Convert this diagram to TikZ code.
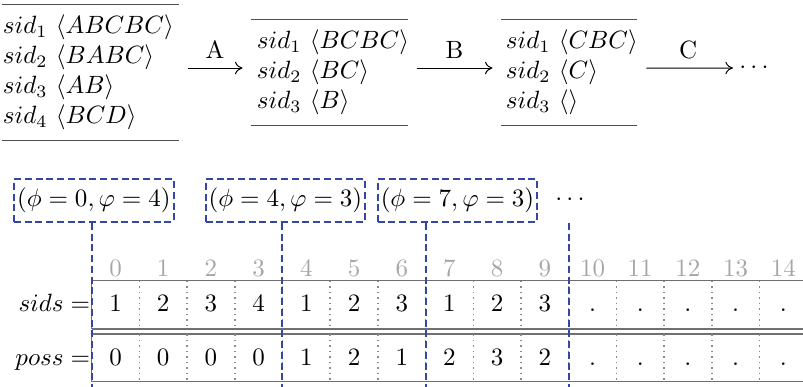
\documentclass[tikz,border=0pt]{standalone}
\usetikzlibrary{arrows.meta,calc}
\definecolor{blk}{HTML}{3446AA}
\definecolor{rulegray}{HTML}{505050}
\definecolor{gridgray}{HTML}{707070}
\definecolor{dotgray}{HTML}{8A8A8A}
\definecolor{idxgray}{HTML}{A6A6A6}
\begin{document}
\begin{tikzpicture}[x=0.4pt,y=-0.4pt,
  seqtab/.style={align=left, inner ysep=4pt},
  toprule/.style={draw=rulegray, line width=0.55pt},
  trans/.style={-{To[length=3pt,width=5pt]}, line width=0.4pt, shorten <=3.6pt, shorten >=3.6pt},
  lbl/.style={above=3.5pt, inner sep=0pt},
  blkbox/.style={draw=blk, line width=0.8pt, dash pattern=on 2.8pt off 1.5pt,
     minimum width=63.9pt, minimum height=17pt, inner sep=0pt},
  blkline/.style={draw=blk, line width=0.8pt, dash pattern=on 2.8pt off 1.5pt},
  gridline/.style={draw=gridgray, line width=0.55pt},
  dotline/.style={draw=dotgray, line width=0.6pt, dash pattern=on 0.6pt off 1.6pt},
  idx/.style={text=idxgray, anchor=base, inner sep=0pt},
  cell/.style={anchor=base, inner sep=0pt},
  rowlbl/.style={anchor=base east, inner sep=0pt}]
\useasboundingbox (0,0) rectangle (803,387);

% ---- top: sequence tables ----
\node[seqtab, inner xsep=0pt, text width=70pt] (t1) at (90.5,72.3)
  {$sid_1\ \langle ABCBC\rangle$\\ $sid_2\ \langle BABC\rangle$\\ $sid_3\ \langle AB\rangle$\\ $sid_4\ \langle BCD\rangle$};
\node[seqtab, inner xsep=2pt, text width=58pt] (t2) at (329.5,72.3)
  {$sid_1\ \langle BCBC\rangle$\\ $sid_2\ \langle BC\rangle$\\ $sid_3\ \langle B\rangle$};
\node[seqtab, inner xsep=1.6pt, text width=50.8pt] (t3) at (569.5,72.3)
  {$sid_1\ \langle CBC\rangle$\\ $sid_2\ \langle C\rangle$\\ $sid_3\ \langle\rangle$};
\foreach \t in {t1,t2,t3}{
  \draw[toprule] (\t.north west) -- (\t.north east);
  \draw[toprule] (\t.south west) -- (\t.south east);
}
\node[inner sep=0pt] (more) at (754,68) {$\cdots$};

\draw[trans] ([yshift=1.7pt]t1.east) -- node[lbl] {A} ([yshift=1.7pt]t2.west);
\draw[trans] ([yshift=1.7pt]t2.east) -- node[lbl] {B} ([yshift=1.7pt]t3.west);
\draw[trans, shorten >=2.4pt] ([yshift=1.7pt]t3.east) -- node[lbl] {C} (more.west);

% ---- blocks ----
\node[blkbox] (b1) at (93.8,200.5) {$(\phi = 0, \varphi = 4)$};
\node[blkbox] (b2) at (285.4,200.5) {$(\phi = 4, \varphi = 3)$};
\node[blkbox] (b3) at (457.5,200.5) {$(\phi = 7, \varphi = 3)$};
\node[inner sep=0pt] (bmore) at (570,200) {$\cdots$};

% ---- arrays ----
\def\xo{91.7}
\def\cw{47.7}
% horizontal lines
\foreach \yy in {280.7,329,334,381.7}
  \draw[gridline] (\xo,\yy) -- (803,\yy);
\draw[gridline] (\xo,280.7) -- (\xo,329);
\draw[gridline] (\xo,334) -- (\xo,381.7);
% dotted separators
\foreach \k in {1,...,14}{
  \draw[dotline] ({\xo+\k*\cw},280.7) -- ({\xo+\k*\cw},329);
  \draw[dotline] ({\xo+\k*\cw},334) -- ({\xo+\k*\cw},381.7);
}
% indices
\foreach \k in {0,...,14}
  \node[idx] (i\k) at ({\xo+(\k+0.5)*\cw},276) {\k};
% values
\foreach \v [count=\k from 0] in {1,2,3,4,1,2,3,1,2,3,.,.,.,.,.}
  \node[cell] (s\k) at ({\xo+(\k+0.5)*\cw},311.7) {\v};
\foreach \v [count=\k from 0] in {0,0,0,0,1,2,1,2,3,2,.,.,.,.,.}
  \node[cell] (p\k) at ({\xo+(\k+0.5)*\cw},365.5) {\v};
\node[rowlbl] (sidslbl) at (90.5,311.7) {$sids =$};
\node[rowlbl] (posslbl) at (90.5,365.5) {$poss =$};

% block boundaries
\draw[blkline] (91.7,0 |- b1.south) -- (91.7,387);
\draw[blkline] (282.5,0 |- b2.south) -- (282.5,387);
\draw[blkline] (425.6,0 |- b3.south) -- (425.6,387);
\draw[blkline] (569.5,0 |- b3.south) -- (569.5,387);
\end{tikzpicture}
\end{document}
